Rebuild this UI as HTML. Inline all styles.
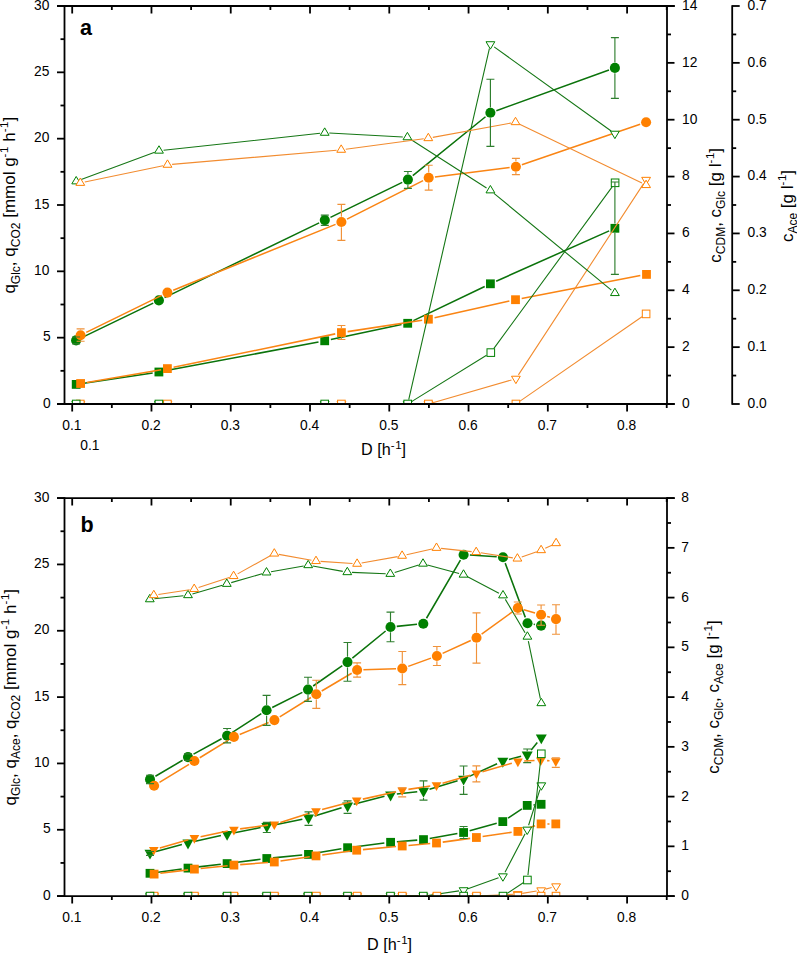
<!DOCTYPE html>
<html><head><meta charset="utf-8"><title>Chart</title>
<style>html,body{margin:0;padding:0;background:#fff;width:797px;height:954px;overflow:hidden}svg{display:block}text{font-family:"Liberation Sans",sans-serif}</style></head>
<body>
<svg width="797" height="954" viewBox="0 0 797 954" font-family='"Liberation Sans", sans-serif' fill="#000">
<defs>
<clipPath id="clipa"><rect x="64.5" y="6" width="602.5" height="398"/></clipPath>
<clipPath id="clipb"><rect x="64.5" y="498.1" width="602.5" height="398"/></clipPath>
</defs>
<rect width="797" height="954" fill="#fff"/>
<g clip-path="url(#clipa)">
<path d="M82.43 383.47 L152.67 372.93 M165.09 370.83 L318.51 341.97 M330.86 339.5 L401.54 324.6 M413.38 320.58 L484.72 286.52 M496.15 281.23 L609.15 230.87" fill="none" stroke="#0b730b" stroke-width="1.55" stroke-linecap="butt"/>
<rect x="71.8" y="380" width="8.8" height="8.8" fill="#008000"/>
<rect x="154.5" y="367.6" width="8.8" height="8.8" fill="#008000"/>
<rect x="320.3" y="336.4" width="8.8" height="8.8" fill="#008000"/>
<rect x="403.3" y="318.9" width="8.8" height="8.8" fill="#008000"/>
<rect x="486" y="279.4" width="8.8" height="8.8" fill="#008000"/>
<rect x="610.5" y="223.9" width="8.8" height="8.8" fill="#008000"/>
<path d="M86.81 382.43 L161.19 369.67 M173.57 367.32 L335.23 333.88 M347.63 331.64 L422.17 320.16 M434.55 317.82 L509.35 301.08 M521.69 298.51 L640.31 275.59" fill="none" stroke="#fa8514" stroke-width="1.55" stroke-linecap="butt"/>
<rect x="76.2" y="379.1" width="8.8" height="8.8" fill="#ff8000"/>
<rect x="163" y="364.2" width="8.8" height="8.8" fill="#ff8000"/>
<rect x="337" y="328.2" width="8.8" height="8.8" fill="#ff8000"/>
<rect x="424" y="314.8" width="8.8" height="8.8" fill="#ff8000"/>
<rect x="511.1" y="295.3" width="8.8" height="8.8" fill="#ff8000"/>
<rect x="642.1" y="270" width="8.8" height="8.8" fill="#ff8000"/>
<path d="M81.77 337.66 L153.23 303.14 M164.57 297.66 L319.13 222.84 M330.46 217.34 L402.24 182.36 M412.8 175.64 L485.5 116.76 M496.33 110.66 L608.97 70.04" fill="none" stroke="#0b730b" stroke-width="1.55" stroke-linecap="butt"/>
<circle cx="76.1" cy="340.4" r="5.05" fill="#008000"/>
<circle cx="158.9" cy="300.4" r="5.05" fill="#008000"/>
<circle cx="324.8" cy="220.1" r="5.05" fill="#008000"/>
<circle cx="407.9" cy="179.6" r="5.05" fill="#008000"/>
<circle cx="490.4" cy="112.8" r="5.05" fill="#008000"/>
<circle cx="614.9" cy="67.9" r="5.05" fill="#008000"/>
<path d="M86.26 332.42 L161.74 295.38 M173.24 290.23 L335.56 224.37 M347.02 219.15 L423.08 180.65 M434.95 177 L509.65 167.5 M521.86 164.66 L640.14 124.24" fill="none" stroke="#fa8514" stroke-width="1.55" stroke-linecap="butt"/>
<circle cx="80.6" cy="335.2" r="5.05" fill="#ff8000"/>
<circle cx="167.4" cy="292.6" r="5.05" fill="#ff8000"/>
<circle cx="341.4" cy="222" r="5.05" fill="#ff8000"/>
<circle cx="428.7" cy="177.8" r="5.05" fill="#ff8000"/>
<circle cx="515.9" cy="166.7" r="5.05" fill="#ff8000"/>
<circle cx="646.1" cy="122.2" r="5.05" fill="#ff8000"/>
<path d="M84.9 404 L162.8 404 M172 404 L336.8 404 M346 404 L423.8 404 M432.82 402.72 L511.48 379.98 M518.42 374.85 L643.58 183.65" fill="none" stroke="#f28c30" stroke-width="1.1" stroke-linecap="butt"/>
<polygon points="75.9,401.53 84.7,401.53 80.3,408.93" fill="#fff" stroke="#ff8000" stroke-width="1.0" stroke-linejoin="miter"/>
<polygon points="163,401.53 171.8,401.53 167.4,408.93" fill="#fff" stroke="#ff8000" stroke-width="1.0" stroke-linejoin="miter"/>
<polygon points="337,401.53 345.8,401.53 341.4,408.93" fill="#fff" stroke="#ff8000" stroke-width="1.0" stroke-linejoin="miter"/>
<polygon points="424,401.53 432.8,401.53 428.4,408.93" fill="#fff" stroke="#ff8000" stroke-width="1.0" stroke-linejoin="miter"/>
<polygon points="511.5,376.23 520.3,376.23 515.9,383.63" fill="#fff" stroke="#ff8000" stroke-width="1.0" stroke-linejoin="miter"/>
<polygon points="641.7,177.33 650.5,177.33 646.1,184.73" fill="#fff" stroke="#ff8000" stroke-width="1.0" stroke-linejoin="miter"/>
<path d="M80.8 404 L154.3 404 M163.5 404 L320.1 404 M329.3 404 L403.1 404 M408.73 399.52 L489.37 48.68 M494.14 46.89 L611.16 131.01" fill="none" stroke="#167716" stroke-width="1.1" stroke-linecap="butt"/>
<polygon points="71.8,401.53 80.6,401.53 76.2,408.93" fill="#fff" stroke="#008000" stroke-width="1.0" stroke-linejoin="miter"/>
<polygon points="154.5,401.53 163.3,401.53 158.9,408.93" fill="#fff" stroke="#008000" stroke-width="1.0" stroke-linejoin="miter"/>
<polygon points="320.3,401.53 329.1,401.53 324.7,408.93" fill="#fff" stroke="#008000" stroke-width="1.0" stroke-linejoin="miter"/>
<polygon points="403.3,401.53 412.1,401.53 407.7,408.93" fill="#fff" stroke="#008000" stroke-width="1.0" stroke-linejoin="miter"/>
<polygon points="486,41.73 494.8,41.73 490.4,49.13" fill="#fff" stroke="#008000" stroke-width="1.0" stroke-linejoin="miter"/>
<polygon points="610.5,131.23 619.3,131.23 614.9,138.63" fill="#fff" stroke="#008000" stroke-width="1.0" stroke-linejoin="miter"/>
<path d="M85.3 404 L162.4 404 M172.4 404 L336.4 404 M346.4 404 L423.4 404 M433.4 404 L510.9 404 M520.01 401.15 L641.99 316.75" fill="none" stroke="#f28c30" stroke-width="1.1" stroke-linecap="butt"/>
<rect x="76.5" y="400.2" width="7.6" height="7.6" fill="#fff" stroke="#ff8000" stroke-width="1.0"/>
<rect x="163.6" y="400.2" width="7.6" height="7.6" fill="#fff" stroke="#ff8000" stroke-width="1.0"/>
<rect x="337.6" y="400.2" width="7.6" height="7.6" fill="#fff" stroke="#ff8000" stroke-width="1.0"/>
<rect x="424.6" y="400.2" width="7.6" height="7.6" fill="#fff" stroke="#ff8000" stroke-width="1.0"/>
<rect x="512.1" y="400.2" width="7.6" height="7.6" fill="#fff" stroke="#ff8000" stroke-width="1.0"/>
<rect x="642.3" y="310.1" width="7.6" height="7.6" fill="#fff" stroke="#ff8000" stroke-width="1.0"/>
<path d="M81.2 404 L153.9 404 M163.9 404 L319.7 404 M329.7 404 L402.7 404 M411.95 401.37 L486.55 355.23 M493.75 348.57 L612.15 186.83" fill="none" stroke="#167716" stroke-width="1.1" stroke-linecap="butt"/>
<rect x="72.4" y="400.2" width="7.6" height="7.6" fill="#fff" stroke="#008000" stroke-width="1.0"/>
<rect x="155.1" y="400.2" width="7.6" height="7.6" fill="#fff" stroke="#008000" stroke-width="1.0"/>
<rect x="320.9" y="400.2" width="7.6" height="7.6" fill="#fff" stroke="#008000" stroke-width="1.0"/>
<rect x="403.9" y="400.2" width="7.6" height="7.6" fill="#fff" stroke="#008000" stroke-width="1.0"/>
<rect x="487" y="348.8" width="7.6" height="7.6" fill="#fff" stroke="#008000" stroke-width="1.0"/>
<rect x="611.3" y="179" width="7.6" height="7.6" fill="#fff" stroke="#008000" stroke-width="1.0"/>
<path d="M80.51 179.8 L154.69 152.3 M163.57 150.21 L320.13 133.29 M329.29 133.05 L402.81 137.05 M411.27 139.78 L486.53 187.92 M493.95 193.33 L611.35 290.17" fill="none" stroke="#167716" stroke-width="1.1" stroke-linecap="butt"/>
<polygon points="71.8,183.87 80.6,183.87 76.2,176.47" fill="#fff" stroke="#008000" stroke-width="1.0" stroke-linejoin="miter"/>
<polygon points="154.6,153.17 163.4,153.17 159,145.77" fill="#fff" stroke="#008000" stroke-width="1.0" stroke-linejoin="miter"/>
<polygon points="320.3,135.27 329.1,135.27 324.7,127.87" fill="#fff" stroke="#008000" stroke-width="1.0" stroke-linejoin="miter"/>
<polygon points="403,139.77 411.8,139.77 407.4,132.37" fill="#fff" stroke="#008000" stroke-width="1.0" stroke-linejoin="miter"/>
<polygon points="486,192.87 494.8,192.87 490.4,185.47" fill="#fff" stroke="#008000" stroke-width="1.0" stroke-linejoin="miter"/>
<polygon points="610.5,295.57 619.3,295.57 614.9,288.17" fill="#fff" stroke="#008000" stroke-width="1.0" stroke-linejoin="miter"/>
<path d="M84.8 181.97 L163 165.73 M172.08 164.4 L336.62 150.2 M345.76 149.19 L423.74 138.81 M432.82 137.37 L510.98 123.03 M519.64 124.2 L641.96 183.1" fill="none" stroke="#f28c30" stroke-width="1.1" stroke-linecap="butt"/>
<polygon points="75.9,185.37 84.7,185.37 80.3,177.97" fill="#fff" stroke="#ff8000" stroke-width="1.0" stroke-linejoin="miter"/>
<polygon points="163.1,167.27 171.9,167.27 167.5,159.87" fill="#fff" stroke="#ff8000" stroke-width="1.0" stroke-linejoin="miter"/>
<polygon points="336.8,152.27 345.6,152.27 341.2,144.87" fill="#fff" stroke="#ff8000" stroke-width="1.0" stroke-linejoin="miter"/>
<polygon points="423.9,140.67 432.7,140.67 428.3,133.27" fill="#fff" stroke="#ff8000" stroke-width="1.0" stroke-linejoin="miter"/>
<polygon points="511.1,124.67 519.9,124.67 515.5,117.27" fill="#fff" stroke="#ff8000" stroke-width="1.0" stroke-linejoin="miter"/>
<polygon points="641.7,187.57 650.5,187.57 646.1,180.17" fill="#fff" stroke="#ff8000" stroke-width="1.0" stroke-linejoin="miter"/>
<path d="M614.9 182 V223.6 M614.9 233 V274.3 M610.9 182 H618.9 M610.9 274.3 H618.9" stroke="#2f7f2f" stroke-width="1.15" fill="none"/>
<path d="M341.4 325.5 V327.9 M341.4 337.3 V339.5 M337.4 325.5 H345.4 M337.4 339.5 H345.4" stroke="#f0923a" stroke-width="1.15" fill="none"/>
<path d="M72.1 337 H80.1 M72.1 343.8 H80.1" stroke="#2f7f2f" stroke-width="1.15" fill="none"/>
<path d="M320.8 215.1 H328.8 M320.8 225.4 H328.8" stroke="#2f7f2f" stroke-width="1.15" fill="none"/>
<path d="M407.9 171.5 V174.25 M407.9 184.95 V188.4 M403.9 171.5 H411.9 M403.9 188.4 H411.9" stroke="#2f7f2f" stroke-width="1.15" fill="none"/>
<path d="M490.4 79.2 V107.45 M490.4 118.15 V146.3 M486.4 79.2 H494.4 M486.4 146.3 H494.4" stroke="#2f7f2f" stroke-width="1.15" fill="none"/>
<path d="M614.9 37.6 V62.55 M614.9 73.25 V98.4 M610.9 37.6 H618.9 M610.9 98.4 H618.9" stroke="#2f7f2f" stroke-width="1.15" fill="none"/>
<path d="M80.6 328.9 V329.85 M80.6 340.55 V341.2 M76.6 328.9 H84.6 M76.6 341.2 H84.6" stroke="#f0923a" stroke-width="1.15" fill="none"/>
<path d="M341.4 204.4 V216.65 M341.4 227.35 V240.4 M337.4 204.4 H345.4 M337.4 240.4 H345.4" stroke="#f0923a" stroke-width="1.15" fill="none"/>
<path d="M428.7 165.2 V172.45 M428.7 183.15 V190.1 M424.7 165.2 H432.7 M424.7 190.1 H432.7" stroke="#f0923a" stroke-width="1.15" fill="none"/>
<path d="M515.9 158.3 V161.35 M515.9 172.05 V174.6 M511.9 158.3 H519.9 M511.9 174.6 H519.9" stroke="#f0923a" stroke-width="1.15" fill="none"/>
</g>
<g clip-path="url(#clipb)">
<path d="M156.24 872.45 L181.76 868.95 M194.26 867.38 L220.84 864.32 M233.35 862.8 L260.55 859.3 M273.07 857.88 L302.23 855.02 M314.71 853.34 L341.39 848.76 M353.85 846.92 L384.35 843.08 M396.88 841.78 L417.22 840.12 M429.7 838.5 L457.4 833.6 M469.67 830.81 L496.73 823.29 M508.05 818.12 L521.95 808.88 M533.48 804.9 L534.82 804.8" fill="none" stroke="#0b730b" stroke-width="1.55" stroke-linecap="butt"/>
<rect x="145.6" y="868.9" width="8.8" height="8.8" fill="#008000"/>
<rect x="183.6" y="863.7" width="8.8" height="8.8" fill="#008000"/>
<rect x="222.7" y="859.2" width="8.8" height="8.8" fill="#008000"/>
<rect x="262.4" y="854.1" width="8.8" height="8.8" fill="#008000"/>
<rect x="304.1" y="850" width="8.8" height="8.8" fill="#008000"/>
<rect x="343.2" y="843.3" width="8.8" height="8.8" fill="#008000"/>
<rect x="386.2" y="837.9" width="8.8" height="8.8" fill="#008000"/>
<rect x="419.1" y="835.2" width="8.8" height="8.8" fill="#008000"/>
<rect x="459.2" y="828.1" width="8.8" height="8.8" fill="#008000"/>
<rect x="498.4" y="817.2" width="8.8" height="8.8" fill="#008000"/>
<rect x="522.8" y="801" width="8.8" height="8.8" fill="#008000"/>
<rect x="536.7" y="799.9" width="8.8" height="8.8" fill="#008000"/>
<path d="M160.35 873.32 L188.15 869.88 M200.67 868.47 L227.63 865.73 M240.18 864.62 L268.02 862.48 M280.53 861.09 L309.77 856.81 M322.24 855.03 L350.46 851.07 M362.97 849.62 L395.93 846.58 M408.48 845.45 L430.22 843.55 M442.74 842.14 L470.16 838.36 M482.63 836.58 L511.67 832.32 M523.89 829.46 L535.11 825.84 M547.4 823.9 L549.5 823.9" fill="none" stroke="#fa8514" stroke-width="1.55" stroke-linecap="butt"/>
<rect x="149.7" y="869.7" width="8.8" height="8.8" fill="#ff8000"/>
<rect x="190" y="864.7" width="8.8" height="8.8" fill="#ff8000"/>
<rect x="229.5" y="860.7" width="8.8" height="8.8" fill="#ff8000"/>
<rect x="269.9" y="857.6" width="8.8" height="8.8" fill="#ff8000"/>
<rect x="311.6" y="851.5" width="8.8" height="8.8" fill="#ff8000"/>
<rect x="352.3" y="845.8" width="8.8" height="8.8" fill="#ff8000"/>
<rect x="397.8" y="841.6" width="8.8" height="8.8" fill="#ff8000"/>
<rect x="432.1" y="838.6" width="8.8" height="8.8" fill="#ff8000"/>
<rect x="472" y="833.1" width="8.8" height="8.8" fill="#ff8000"/>
<rect x="513.5" y="827" width="8.8" height="8.8" fill="#ff8000"/>
<rect x="536.7" y="819.5" width="8.8" height="8.8" fill="#ff8000"/>
<rect x="551.4" y="819.5" width="8.8" height="8.8" fill="#ff8000"/>
<path d="M156.09 851.38 L181.91 844.52 M194.15 841.53 L220.95 835.57 M233.28 832.99 L260.62 827.61 M272.97 825.14 L302.33 819.16 M314.52 816.04 L341.58 807.66 M353.7 804.24 L384.5 796.36 M396.86 794.1 L417.24 791.8 M429.53 789.28 L457.57 780.82 M469.33 776.38 L497.07 763.72 M508.9 759.53 L521.1 756.37 M531.21 749.94 L537.29 742.56" fill="none" stroke="#0b730b" stroke-width="1.55" stroke-linecap="butt"/>
<polygon points="144.5,849.7 155.5,849.7 150,859.6" fill="#008000"/>
<polygon points="182.5,839.6 193.5,839.6 188,849.5" fill="#008000"/>
<polygon points="221.6,830.9 232.6,830.9 227.1,840.8" fill="#008000"/>
<polygon points="261.3,823.1 272.3,823.1 266.8,833" fill="#008000"/>
<polygon points="303,814.6 314,814.6 308.5,824.5" fill="#008000"/>
<polygon points="342.1,802.5 353.1,802.5 347.6,812.4" fill="#008000"/>
<polygon points="385.1,791.5 396.1,791.5 390.6,801.4" fill="#008000"/>
<polygon points="418,787.8 429,787.8 423.5,797.7" fill="#008000"/>
<polygon points="458.1,775.7 469.1,775.7 463.6,785.6" fill="#008000"/>
<polygon points="497.3,757.8 508.3,757.8 502.8,767.7" fill="#008000"/>
<polygon points="521.7,751.5 532.7,751.5 527.2,761.4" fill="#008000"/>
<polygon points="535.8,734.4 546.8,734.4 541.3,744.3" fill="#008000"/>
<path d="M159.85 848.04 L188.35 839.76 M200.57 836.7 L227.73 831 M240.14 828.87 L268.06 825.13 M280.31 822.4 L309.99 813 M322.1 809.51 L350.6 802.09 M362.85 799.12 L396.05 791.68 M408.43 789.36 L430.27 786.04 M442.55 783.34 L470.35 775.26 M482.45 771.74 L511.85 763.16 M524.19 761.1 L534.51 760.6 M547.09 760.64 L549.51 760.76" fill="none" stroke="#fa8514" stroke-width="1.55" stroke-linecap="butt"/>
<polygon points="148.95,846.9 158.65,846.9 153.8,855.6" fill="#ff8000"/>
<polygon points="189.55,835.1 199.25,835.1 194.4,843.8" fill="#ff8000"/>
<polygon points="229.05,826.8 238.75,826.8 233.9,835.5" fill="#ff8000"/>
<polygon points="269.45,821.4 279.15,821.4 274.3,830.1" fill="#ff8000"/>
<polygon points="311.15,808.2 320.85,808.2 316,816.9" fill="#ff8000"/>
<polygon points="351.85,797.6 361.55,797.6 356.7,806.3" fill="#ff8000"/>
<polygon points="397.35,787.4 407.05,787.4 402.2,796.1" fill="#ff8000"/>
<polygon points="431.65,782.2 441.35,782.2 436.5,790.9" fill="#ff8000"/>
<polygon points="471.55,770.6 481.25,770.6 476.4,779.3" fill="#ff8000"/>
<polygon points="513.05,758.5 522.75,758.5 517.9,767.2" fill="#ff8000"/>
<polygon points="535.95,757.4 545.65,757.4 540.8,766.1" fill="#ff8000"/>
<polygon points="550.95,758.2 560.65,758.2 555.8,766.9" fill="#ff8000"/>
<path d="M155.43 776.21 L182.57 760.29 M193.53 754.08 L221.57 738.72 M232.4 732.29 L261.3 713.71 M272.23 707.48 L302.37 692.42 M313.17 686 L342.33 665.7 M352.38 658.12 L385.62 630.98 M396.77 626.37 L417.03 624.33 M426.48 618.26 L460.42 560.14 M469.89 555.1 L496.71 556.8 M505.19 563.11 L525.31 617.39 M533.71 624.35 L534.89 624.55" fill="none" stroke="#0b730b" stroke-width="1.55" stroke-linecap="butt"/>
<circle cx="150" cy="779.4" r="5.05" fill="#008000"/>
<circle cx="188" cy="757.1" r="5.05" fill="#008000"/>
<circle cx="227.1" cy="735.7" r="5.05" fill="#008000"/>
<circle cx="266.6" cy="710.3" r="5.05" fill="#008000"/>
<circle cx="308" cy="689.6" r="5.05" fill="#008000"/>
<circle cx="347.5" cy="662.1" r="5.05" fill="#008000"/>
<circle cx="390.5" cy="627" r="5.05" fill="#008000"/>
<circle cx="423.3" cy="623.7" r="5.05" fill="#008000"/>
<circle cx="463.6" cy="554.7" r="5.05" fill="#008000"/>
<circle cx="503" cy="557.2" r="5.05" fill="#008000"/>
<circle cx="527.5" cy="623.3" r="5.05" fill="#008000"/>
<circle cx="541.1" cy="625.6" r="5.05" fill="#008000"/>
<path d="M159.47 782.41 L189.03 764.29 M199.78 757.72 L228.52 740.18 M239.72 734.49 L268.58 722.51 M279.76 716.79 L310.94 697.51 M321.72 690.99 L351.68 673.21 M363.4 669.79 L396 668.71 M408.23 666.36 L430.97 658.14 M442.62 653.37 L470.78 640.43 M481.61 634.11 L512.69 611.69 M523.85 609.74 L535.05 612.96 M547.14 616.48 L549.96 617.32" fill="none" stroke="#fa8514" stroke-width="1.55" stroke-linecap="butt"/>
<circle cx="154.1" cy="785.7" r="5.05" fill="#ff8000"/>
<circle cx="194.4" cy="761" r="5.05" fill="#ff8000"/>
<circle cx="233.9" cy="736.9" r="5.05" fill="#ff8000"/>
<circle cx="274.4" cy="720.1" r="5.05" fill="#ff8000"/>
<circle cx="316.3" cy="694.2" r="5.05" fill="#ff8000"/>
<circle cx="357.1" cy="670" r="5.05" fill="#ff8000"/>
<circle cx="402.3" cy="668.5" r="5.05" fill="#ff8000"/>
<circle cx="436.9" cy="656" r="5.05" fill="#ff8000"/>
<circle cx="476.5" cy="637.8" r="5.05" fill="#ff8000"/>
<circle cx="517.8" cy="608" r="5.05" fill="#ff8000"/>
<circle cx="541.1" cy="614.7" r="5.05" fill="#ff8000"/>
<circle cx="556" cy="619.1" r="5.05" fill="#ff8000"/>
<path d="M158.7 896.1 L189.8 896.1 M199 896.1 L229.3 896.1 M238.5 896.1 L269.8 896.1 M279 896.1 L311.7 896.1 M320.9 896.1 L352.5 896.1 M361.7 896.1 L397.7 896.1 M406.9 896.1 L432.3 896.1 M441.5 896.1 L471.9 896.1 M481.09 895.88 L513.11 894.32 M522.24 893.37 L536.66 891.03 M545.64 889.11 L551.66 887.49" fill="none" stroke="#f28c30" stroke-width="1.1" stroke-linecap="butt"/>
<polygon points="149.7,893.63 158.5,893.63 154.1,901.03" fill="#fff" stroke="#ff8000" stroke-width="1.0" stroke-linejoin="miter"/>
<polygon points="190,893.63 198.8,893.63 194.4,901.03" fill="#fff" stroke="#ff8000" stroke-width="1.0" stroke-linejoin="miter"/>
<polygon points="229.5,893.63 238.3,893.63 233.9,901.03" fill="#fff" stroke="#ff8000" stroke-width="1.0" stroke-linejoin="miter"/>
<polygon points="270,893.63 278.8,893.63 274.4,901.03" fill="#fff" stroke="#ff8000" stroke-width="1.0" stroke-linejoin="miter"/>
<polygon points="311.9,893.63 320.7,893.63 316.3,901.03" fill="#fff" stroke="#ff8000" stroke-width="1.0" stroke-linejoin="miter"/>
<polygon points="352.7,893.63 361.5,893.63 357.1,901.03" fill="#fff" stroke="#ff8000" stroke-width="1.0" stroke-linejoin="miter"/>
<polygon points="397.9,893.63 406.7,893.63 402.3,901.03" fill="#fff" stroke="#ff8000" stroke-width="1.0" stroke-linejoin="miter"/>
<polygon points="432.5,893.63 441.3,893.63 436.9,901.03" fill="#fff" stroke="#ff8000" stroke-width="1.0" stroke-linejoin="miter"/>
<polygon points="472.1,893.63 480.9,893.63 476.5,901.03" fill="#fff" stroke="#ff8000" stroke-width="1.0" stroke-linejoin="miter"/>
<polygon points="513.3,891.63 522.1,891.63 517.7,899.03" fill="#fff" stroke="#ff8000" stroke-width="1.0" stroke-linejoin="miter"/>
<polygon points="536.8,887.83 545.6,887.83 541.2,895.23" fill="#fff" stroke="#ff8000" stroke-width="1.0" stroke-linejoin="miter"/>
<polygon points="551.7,883.83 560.5,883.83 556.1,891.23" fill="#fff" stroke="#ff8000" stroke-width="1.0" stroke-linejoin="miter"/>
<path d="M154.6 896.1 L183.4 896.1 M192.6 896.1 L222.5 896.1 M231.7 896.1 L262 896.1 M271.2 896.1 L303.4 896.1 M312.6 896.1 L342.9 896.1 M352.1 896.1 L385.9 896.1 M395.1 896.1 L418.7 896.1 M427.85 895.43 L459.05 890.87 M467.94 888.67 L498.56 877.83 M505.02 872.22 L525.08 833.68 M528.6 825.22 L539.9 789.68" fill="none" stroke="#167716" stroke-width="1.1" stroke-linecap="butt"/>
<polygon points="145.6,893.63 154.4,893.63 150,901.03" fill="#fff" stroke="#008000" stroke-width="1.0" stroke-linejoin="miter"/>
<polygon points="183.6,893.63 192.4,893.63 188,901.03" fill="#fff" stroke="#008000" stroke-width="1.0" stroke-linejoin="miter"/>
<polygon points="222.7,893.63 231.5,893.63 227.1,901.03" fill="#fff" stroke="#008000" stroke-width="1.0" stroke-linejoin="miter"/>
<polygon points="262.2,893.63 271,893.63 266.6,901.03" fill="#fff" stroke="#008000" stroke-width="1.0" stroke-linejoin="miter"/>
<polygon points="303.6,893.63 312.4,893.63 308,901.03" fill="#fff" stroke="#008000" stroke-width="1.0" stroke-linejoin="miter"/>
<polygon points="343.1,893.63 351.9,893.63 347.5,901.03" fill="#fff" stroke="#008000" stroke-width="1.0" stroke-linejoin="miter"/>
<polygon points="386.1,893.63 394.9,893.63 390.5,901.03" fill="#fff" stroke="#008000" stroke-width="1.0" stroke-linejoin="miter"/>
<polygon points="418.9,893.63 427.7,893.63 423.3,901.03" fill="#fff" stroke="#008000" stroke-width="1.0" stroke-linejoin="miter"/>
<polygon points="459.2,887.73 468,887.73 463.6,895.13" fill="#fff" stroke="#008000" stroke-width="1.0" stroke-linejoin="miter"/>
<polygon points="498.5,873.83 507.3,873.83 502.9,881.23" fill="#fff" stroke="#008000" stroke-width="1.0" stroke-linejoin="miter"/>
<polygon points="522.8,827.13 531.6,827.13 527.2,834.53" fill="#fff" stroke="#008000" stroke-width="1.0" stroke-linejoin="miter"/>
<polygon points="536.9,782.83 545.7,782.83 541.3,790.23" fill="#fff" stroke="#008000" stroke-width="1.0" stroke-linejoin="miter"/>
<path d="M159.1 896.1 L189.4 896.1 M199.4 896.1 L228.9 896.1 M238.9 896.1 L269.4 896.1 M279.4 896.1 L311.3 896.1 M321.3 896.1 L352.1 896.1 M362.1 896.1 L397.3 896.1 M407.3 896.1 L431.9 896.1 M441.9 896.1 L471.5 896.1 M481.5 896.1 L512.8 896.1 M522.8 896.1 L536.1 896.1 M546.1 896.1 L551 896.1" fill="none" stroke="#f28c30" stroke-width="1.1" stroke-linecap="butt"/>
<rect x="150.3" y="892.3" width="7.6" height="7.6" fill="#fff" stroke="#ff8000" stroke-width="1.0"/>
<rect x="190.6" y="892.3" width="7.6" height="7.6" fill="#fff" stroke="#ff8000" stroke-width="1.0"/>
<rect x="230.1" y="892.3" width="7.6" height="7.6" fill="#fff" stroke="#ff8000" stroke-width="1.0"/>
<rect x="270.6" y="892.3" width="7.6" height="7.6" fill="#fff" stroke="#ff8000" stroke-width="1.0"/>
<rect x="312.5" y="892.3" width="7.6" height="7.6" fill="#fff" stroke="#ff8000" stroke-width="1.0"/>
<rect x="353.3" y="892.3" width="7.6" height="7.6" fill="#fff" stroke="#ff8000" stroke-width="1.0"/>
<rect x="398.5" y="892.3" width="7.6" height="7.6" fill="#fff" stroke="#ff8000" stroke-width="1.0"/>
<rect x="433.1" y="892.3" width="7.6" height="7.6" fill="#fff" stroke="#ff8000" stroke-width="1.0"/>
<rect x="472.7" y="892.3" width="7.6" height="7.6" fill="#fff" stroke="#ff8000" stroke-width="1.0"/>
<rect x="514" y="892.3" width="7.6" height="7.6" fill="#fff" stroke="#ff8000" stroke-width="1.0"/>
<rect x="537.3" y="892.3" width="7.6" height="7.6" fill="#fff" stroke="#ff8000" stroke-width="1.0"/>
<rect x="552.2" y="892.3" width="7.6" height="7.6" fill="#fff" stroke="#ff8000" stroke-width="1.0"/>
<path d="M155 896.1 L183 896.1 M193 896.1 L222.1 896.1 M232.1 896.1 L261.6 896.1 M271.6 896.1 L303 896.1 M313 896.1 L342.5 896.1 M352.5 896.1 L385.5 896.1 M395.5 896.1 L418.3 896.1 M428.3 896.1 L458.6 896.1 M468.6 896.1 L498 896.1 M507.17 893.35 L523.23 882.75 M527.95 875.03 L540.75 758.77" fill="none" stroke="#167716" stroke-width="1.1" stroke-linecap="butt"/>
<rect x="146.2" y="892.3" width="7.6" height="7.6" fill="#fff" stroke="#008000" stroke-width="1.0"/>
<rect x="184.2" y="892.3" width="7.6" height="7.6" fill="#fff" stroke="#008000" stroke-width="1.0"/>
<rect x="223.3" y="892.3" width="7.6" height="7.6" fill="#fff" stroke="#008000" stroke-width="1.0"/>
<rect x="262.8" y="892.3" width="7.6" height="7.6" fill="#fff" stroke="#008000" stroke-width="1.0"/>
<rect x="304.2" y="892.3" width="7.6" height="7.6" fill="#fff" stroke="#008000" stroke-width="1.0"/>
<rect x="343.7" y="892.3" width="7.6" height="7.6" fill="#fff" stroke="#008000" stroke-width="1.0"/>
<rect x="386.7" y="892.3" width="7.6" height="7.6" fill="#fff" stroke="#008000" stroke-width="1.0"/>
<rect x="419.5" y="892.3" width="7.6" height="7.6" fill="#fff" stroke="#008000" stroke-width="1.0"/>
<rect x="459.8" y="892.3" width="7.6" height="7.6" fill="#fff" stroke="#008000" stroke-width="1.0"/>
<rect x="499.2" y="892.3" width="7.6" height="7.6" fill="#fff" stroke="#008000" stroke-width="1.0"/>
<rect x="523.6" y="876.2" width="7.6" height="7.6" fill="#fff" stroke="#008000" stroke-width="1.0"/>
<rect x="537.5" y="750" width="7.6" height="7.6" fill="#fff" stroke="#008000" stroke-width="1.0"/>
<path d="M154.37 598.81 L183.43 595.69 M192.42 593.91 L222.38 585.19 M231.22 582.63 L262.08 573.77 M271.03 571.71 L303.67 565.99 M312.73 566.01 L342.77 571.39 M351.9 572.38 L385.7 573.72 M394.69 572.53 L418.61 565.07 M427.44 564.91 L459.06 573.49 M467.57 576.84 L498.93 593.26 M505.34 599.36 L525.06 632.74 M528.34 641.2 L540.36 698.7" fill="none" stroke="#167716" stroke-width="1.1" stroke-linecap="butt"/>
<polygon points="145.4,601.77 154.2,601.77 149.8,594.37" fill="#fff" stroke="#008000" stroke-width="1.0" stroke-linejoin="miter"/>
<polygon points="183.6,597.67 192.4,597.67 188,590.27" fill="#fff" stroke="#008000" stroke-width="1.0" stroke-linejoin="miter"/>
<polygon points="222.4,586.37 231.2,586.37 226.8,578.97" fill="#fff" stroke="#008000" stroke-width="1.0" stroke-linejoin="miter"/>
<polygon points="262.1,574.97 270.9,574.97 266.5,567.57" fill="#fff" stroke="#008000" stroke-width="1.0" stroke-linejoin="miter"/>
<polygon points="303.8,567.67 312.6,567.67 308.2,560.27" fill="#fff" stroke="#008000" stroke-width="1.0" stroke-linejoin="miter"/>
<polygon points="342.9,574.67 351.7,574.67 347.3,567.27" fill="#fff" stroke="#008000" stroke-width="1.0" stroke-linejoin="miter"/>
<polygon points="385.9,576.37 394.7,576.37 390.3,568.97" fill="#fff" stroke="#008000" stroke-width="1.0" stroke-linejoin="miter"/>
<polygon points="418.6,566.17 427.4,566.17 423,558.77" fill="#fff" stroke="#008000" stroke-width="1.0" stroke-linejoin="miter"/>
<polygon points="459.1,577.17 467.9,577.17 463.5,569.77" fill="#fff" stroke="#008000" stroke-width="1.0" stroke-linejoin="miter"/>
<polygon points="498.6,597.87 507.4,597.87 503,590.47" fill="#fff" stroke="#008000" stroke-width="1.0" stroke-linejoin="miter"/>
<polygon points="523,639.17 531.8,639.17 527.4,631.77" fill="#fff" stroke="#008000" stroke-width="1.0" stroke-linejoin="miter"/>
<polygon points="536.9,705.67 545.7,705.67 541.3,698.27" fill="#fff" stroke="#008000" stroke-width="1.0" stroke-linejoin="miter"/>
<path d="M158.35 594.5 L189.65 589.7 M198.57 587.57 L229.23 577.53 M237.63 573.87 L270.27 555.83 M278.83 554.41 L311.47 560.29 M320.59 561.4 L352.51 563.5 M361.63 562.99 L397.57 556.61 M406.58 554.77 L432.02 548.93 M441.07 548.38 L471.63 551.62 M480.74 552.82 L512.86 557.88 M521.74 557.06 L536.76 551.74 M545.27 548.25 L551.93 545.15" fill="none" stroke="#f28c30" stroke-width="1.1" stroke-linecap="butt"/>
<polygon points="149.4,597.67 158.2,597.67 153.8,590.27" fill="#fff" stroke="#ff8000" stroke-width="1.0" stroke-linejoin="miter"/>
<polygon points="189.8,591.47 198.6,591.47 194.2,584.07" fill="#fff" stroke="#ff8000" stroke-width="1.0" stroke-linejoin="miter"/>
<polygon points="229.2,578.57 238,578.57 233.6,571.17" fill="#fff" stroke="#ff8000" stroke-width="1.0" stroke-linejoin="miter"/>
<polygon points="269.9,556.07 278.7,556.07 274.3,548.67" fill="#fff" stroke="#ff8000" stroke-width="1.0" stroke-linejoin="miter"/>
<polygon points="311.6,563.57 320.4,563.57 316,556.17" fill="#fff" stroke="#ff8000" stroke-width="1.0" stroke-linejoin="miter"/>
<polygon points="352.7,566.27 361.5,566.27 357.1,558.87" fill="#fff" stroke="#ff8000" stroke-width="1.0" stroke-linejoin="miter"/>
<polygon points="397.7,558.27 406.5,558.27 402.1,550.87" fill="#fff" stroke="#ff8000" stroke-width="1.0" stroke-linejoin="miter"/>
<polygon points="432.1,550.37 440.9,550.37 436.5,542.97" fill="#fff" stroke="#ff8000" stroke-width="1.0" stroke-linejoin="miter"/>
<polygon points="471.8,554.57 480.6,554.57 476.2,547.17" fill="#fff" stroke="#ff8000" stroke-width="1.0" stroke-linejoin="miter"/>
<polygon points="513,561.07 521.8,561.07 517.4,553.67" fill="#fff" stroke="#ff8000" stroke-width="1.0" stroke-linejoin="miter"/>
<polygon points="536.7,552.67 545.5,552.67 541.1,545.27" fill="#fff" stroke="#ff8000" stroke-width="1.0" stroke-linejoin="miter"/>
<polygon points="551.7,545.67 560.5,545.67 556.1,538.27" fill="#fff" stroke="#ff8000" stroke-width="1.0" stroke-linejoin="miter"/>
<path d="M463.6 826.5 V827.8 M463.6 837.2 V838.5 M459.6 826.5 H467.6 M459.6 838.5 H467.6" stroke="#2f7f2f" stroke-width="1.15" fill="none"/>
<path d="M146 851.5 H154 M146 855.4 H154" stroke="#2f7f2f" stroke-width="1.15" fill="none"/>
<path d="M266.8 822.4 V822.8 M262.8 822.4 H270.8 M262.8 832.5 H270.8" stroke="#2f7f2f" stroke-width="1.15" fill="none"/>
<path d="M308.5 811.8 V814.3 M308.5 824.8 V825.4 M304.5 811.8 H312.5 M304.5 825.4 H312.5" stroke="#2f7f2f" stroke-width="1.15" fill="none"/>
<path d="M347.6 800.8 V802.2 M347.6 812.7 V813.3 M343.6 800.8 H351.6 M343.6 813.3 H351.6" stroke="#2f7f2f" stroke-width="1.15" fill="none"/>
<path d="M423.5 780.8 V787.5 M423.5 798 V800.1 M419.5 780.8 H427.5 M419.5 800.1 H427.5" stroke="#2f7f2f" stroke-width="1.15" fill="none"/>
<path d="M463.6 766 V775.4 M463.6 785.9 V794.4 M459.6 766 H467.6 M459.6 794.4 H467.6" stroke="#2f7f2f" stroke-width="1.15" fill="none"/>
<path d="M527.2 749 V751.2 M527.2 761.7 V762.6 M523.2 749 H531.2 M523.2 762.6 H531.2" stroke="#2f7f2f" stroke-width="1.15" fill="none"/>
<path d="M402.2 796.4 V796.8 M398.2 787.8 H406.2 M398.2 796.8 H406.2" stroke="#f0923a" stroke-width="1.15" fill="none"/>
<path d="M476.4 765.9 V770.3 M476.4 779.6 V781.9 M472.4 765.9 H480.4 M472.4 781.9 H480.4" stroke="#f0923a" stroke-width="1.15" fill="none"/>
<path d="M555.8 757.8 V757.9 M555.8 767.2 V767.4 M551.8 757.8 H559.8 M551.8 767.4 H559.8" stroke="#f0923a" stroke-width="1.15" fill="none"/>
<path d="M146 775.2 H154 M146 783.6 H154" stroke="#2f7f2f" stroke-width="1.15" fill="none"/>
<path d="M184 753.8 H192 M184 760.4 H192" stroke="#2f7f2f" stroke-width="1.15" fill="none"/>
<path d="M227.1 728.5 V730.35 M227.1 741.05 V742.9 M223.1 728.5 H231.1 M223.1 742.9 H231.1" stroke="#2f7f2f" stroke-width="1.15" fill="none"/>
<path d="M266.6 695.3 V704.95 M266.6 715.65 V725.4 M262.6 695.3 H270.6 M262.6 725.4 H270.6" stroke="#2f7f2f" stroke-width="1.15" fill="none"/>
<path d="M308 677.2 V684.25 M308 694.95 V701.3 M304 677.2 H312 M304 701.3 H312" stroke="#2f7f2f" stroke-width="1.15" fill="none"/>
<path d="M347.5 642.5 V656.75 M347.5 667.45 V681.2 M343.5 642.5 H351.5 M343.5 681.2 H351.5" stroke="#2f7f2f" stroke-width="1.15" fill="none"/>
<path d="M390.5 612.1 V621.65 M390.5 632.35 V641.7 M386.5 612.1 H394.5 M386.5 641.7 H394.5" stroke="#2f7f2f" stroke-width="1.15" fill="none"/>
<path d="M316.3 680.2 V688.85 M316.3 699.55 V708.4 M312.3 680.2 H320.3 M312.3 708.4 H320.3" stroke="#f0923a" stroke-width="1.15" fill="none"/>
<path d="M357.1 662.8 V664.65 M357.1 675.35 V677.1 M353.1 662.8 H361.1 M353.1 677.1 H361.1" stroke="#f0923a" stroke-width="1.15" fill="none"/>
<path d="M402.3 651.5 V663.15 M402.3 673.85 V684.6 M398.3 651.5 H406.3 M398.3 684.6 H406.3" stroke="#f0923a" stroke-width="1.15" fill="none"/>
<path d="M436.9 646.5 V650.65 M436.9 661.35 V665.5 M432.9 646.5 H440.9 M432.9 665.5 H440.9" stroke="#f0923a" stroke-width="1.15" fill="none"/>
<path d="M476.5 612.8 V632.45 M476.5 643.15 V663.1 M472.5 612.8 H480.5 M472.5 663.1 H480.5" stroke="#f0923a" stroke-width="1.15" fill="none"/>
<path d="M517.8 602 V602.65 M517.8 613.35 V614 M513.8 602 H521.8 M513.8 614 H521.8" stroke="#f0923a" stroke-width="1.15" fill="none"/>
<path d="M541.1 605 V609.35 M541.1 620.05 V625.2 M537.1 605 H545.1 M537.1 625.2 H545.1" stroke="#f0923a" stroke-width="1.15" fill="none"/>
<path d="M556 604.7 V613.75 M556 624.45 V634.2 M552 604.7 H560 M552 634.2 H560" stroke="#f0923a" stroke-width="1.15" fill="none"/>
</g>
<path d="M64.5 5.2 V404.8" stroke="#000" stroke-width="1.8" fill="none"/>
<path d="M57 404 H674.8" stroke="#000" stroke-width="1.8" fill="none"/>
<path d="M57 6 H674.8" stroke="#000" stroke-width="1.8" fill="none"/>
<path d="M667 5.2 V404.8" stroke="#000" stroke-width="1.8" fill="none"/>
<path d="M72.2 404 V411.5 M72.2 6 V13.5" stroke="#000" stroke-width="1.8" fill="none"/>
<path d="M111.83 404 V408 M111.83 6 V10" stroke="#000" stroke-width="1.8" fill="none"/>
<path d="M151.47 404 V411.5 M151.47 6 V13.5" stroke="#000" stroke-width="1.8" fill="none"/>
<path d="M191.11 404 V408 M191.11 6 V10" stroke="#000" stroke-width="1.8" fill="none"/>
<path d="M230.74 404 V411.5 M230.74 6 V13.5" stroke="#000" stroke-width="1.8" fill="none"/>
<path d="M270.38 404 V408 M270.38 6 V10" stroke="#000" stroke-width="1.8" fill="none"/>
<path d="M310.01 404 V411.5 M310.01 6 V13.5" stroke="#000" stroke-width="1.8" fill="none"/>
<path d="M349.64 404 V408 M349.64 6 V10" stroke="#000" stroke-width="1.8" fill="none"/>
<path d="M389.28 404 V411.5 M389.28 6 V13.5" stroke="#000" stroke-width="1.8" fill="none"/>
<path d="M428.92 404 V408 M428.92 6 V10" stroke="#000" stroke-width="1.8" fill="none"/>
<path d="M468.55 404 V411.5 M468.55 6 V13.5" stroke="#000" stroke-width="1.8" fill="none"/>
<path d="M508.19 404 V408 M508.19 6 V10" stroke="#000" stroke-width="1.8" fill="none"/>
<path d="M547.82 404 V411.5 M547.82 6 V13.5" stroke="#000" stroke-width="1.8" fill="none"/>
<path d="M587.46 404 V408 M587.46 6 V10" stroke="#000" stroke-width="1.8" fill="none"/>
<path d="M627.09 404 V411.5 M627.09 6 V13.5" stroke="#000" stroke-width="1.8" fill="none"/>
<path d="M666.73 404 V408 M666.73 6 V10" stroke="#000" stroke-width="1.8" fill="none"/>
<path d="M57 404 H64.5" stroke="#000" stroke-width="1.8" fill="none"/>
<path d="M60.5 370.83 H64.5" stroke="#000" stroke-width="1.8" fill="none"/>
<path d="M57 337.67 H64.5" stroke="#000" stroke-width="1.8" fill="none"/>
<path d="M60.5 304.5 H64.5" stroke="#000" stroke-width="1.8" fill="none"/>
<path d="M57 271.33 H64.5" stroke="#000" stroke-width="1.8" fill="none"/>
<path d="M60.5 238.17 H64.5" stroke="#000" stroke-width="1.8" fill="none"/>
<path d="M57 205 H64.5" stroke="#000" stroke-width="1.8" fill="none"/>
<path d="M60.5 171.83 H64.5" stroke="#000" stroke-width="1.8" fill="none"/>
<path d="M57 138.67 H64.5" stroke="#000" stroke-width="1.8" fill="none"/>
<path d="M60.5 105.5 H64.5" stroke="#000" stroke-width="1.8" fill="none"/>
<path d="M57 72.33 H64.5" stroke="#000" stroke-width="1.8" fill="none"/>
<path d="M60.5 39.17 H64.5" stroke="#000" stroke-width="1.8" fill="none"/>
<path d="M57 6 H64.5" stroke="#000" stroke-width="1.8" fill="none"/>
<path d="M667 404 H674.5" stroke="#000" stroke-width="1.8" fill="none"/>
<path d="M667 375.57 H671" stroke="#000" stroke-width="1.8" fill="none"/>
<path d="M667 347.14 H674.5" stroke="#000" stroke-width="1.8" fill="none"/>
<path d="M667 318.71 H671" stroke="#000" stroke-width="1.8" fill="none"/>
<path d="M667 290.29 H674.5" stroke="#000" stroke-width="1.8" fill="none"/>
<path d="M667 261.86 H671" stroke="#000" stroke-width="1.8" fill="none"/>
<path d="M667 233.43 H674.5" stroke="#000" stroke-width="1.8" fill="none"/>
<path d="M667 205 H671" stroke="#000" stroke-width="1.8" fill="none"/>
<path d="M667 176.57 H674.5" stroke="#000" stroke-width="1.8" fill="none"/>
<path d="M667 148.14 H671" stroke="#000" stroke-width="1.8" fill="none"/>
<path d="M667 119.71 H674.5" stroke="#000" stroke-width="1.8" fill="none"/>
<path d="M667 91.29 H671" stroke="#000" stroke-width="1.8" fill="none"/>
<path d="M667 62.86 H674.5" stroke="#000" stroke-width="1.8" fill="none"/>
<path d="M667 34.43 H671" stroke="#000" stroke-width="1.8" fill="none"/>
<path d="M667 6 H674.5" stroke="#000" stroke-width="1.8" fill="none"/>
<path d="M732.2 5.2 V404.8" stroke="#000" stroke-width="1.8" fill="none"/>
<path d="M732.2 404 H739.7" stroke="#000" stroke-width="1.8" fill="none"/>
<path d="M732.2 375.57 H736.2" stroke="#000" stroke-width="1.8" fill="none"/>
<path d="M732.2 347.14 H739.7" stroke="#000" stroke-width="1.8" fill="none"/>
<path d="M732.2 318.71 H736.2" stroke="#000" stroke-width="1.8" fill="none"/>
<path d="M732.2 290.29 H739.7" stroke="#000" stroke-width="1.8" fill="none"/>
<path d="M732.2 261.86 H736.2" stroke="#000" stroke-width="1.8" fill="none"/>
<path d="M732.2 233.43 H739.7" stroke="#000" stroke-width="1.8" fill="none"/>
<path d="M732.2 205 H736.2" stroke="#000" stroke-width="1.8" fill="none"/>
<path d="M732.2 176.57 H739.7" stroke="#000" stroke-width="1.8" fill="none"/>
<path d="M732.2 148.14 H736.2" stroke="#000" stroke-width="1.8" fill="none"/>
<path d="M732.2 119.71 H739.7" stroke="#000" stroke-width="1.8" fill="none"/>
<path d="M732.2 91.29 H736.2" stroke="#000" stroke-width="1.8" fill="none"/>
<path d="M732.2 62.86 H739.7" stroke="#000" stroke-width="1.8" fill="none"/>
<path d="M732.2 34.43 H736.2" stroke="#000" stroke-width="1.8" fill="none"/>
<path d="M732.2 6 H739.7" stroke="#000" stroke-width="1.8" fill="none"/>
<path d="M64.5 497.3 V896.9" stroke="#000" stroke-width="1.8" fill="none"/>
<path d="M57 896.1 H674.8" stroke="#000" stroke-width="1.8" fill="none"/>
<path d="M57 498.1 H674.8" stroke="#000" stroke-width="1.8" fill="none"/>
<path d="M667 497.3 V896.9" stroke="#000" stroke-width="1.8" fill="none"/>
<path d="M72.2 896.1 V903.6 M72.2 498.1 V505.6" stroke="#000" stroke-width="1.8" fill="none"/>
<path d="M111.83 896.1 V900.1 M111.83 498.1 V502.1" stroke="#000" stroke-width="1.8" fill="none"/>
<path d="M151.47 896.1 V903.6 M151.47 498.1 V505.6" stroke="#000" stroke-width="1.8" fill="none"/>
<path d="M191.11 896.1 V900.1 M191.11 498.1 V502.1" stroke="#000" stroke-width="1.8" fill="none"/>
<path d="M230.74 896.1 V903.6 M230.74 498.1 V505.6" stroke="#000" stroke-width="1.8" fill="none"/>
<path d="M270.38 896.1 V900.1 M270.38 498.1 V502.1" stroke="#000" stroke-width="1.8" fill="none"/>
<path d="M310.01 896.1 V903.6 M310.01 498.1 V505.6" stroke="#000" stroke-width="1.8" fill="none"/>
<path d="M349.64 896.1 V900.1 M349.64 498.1 V502.1" stroke="#000" stroke-width="1.8" fill="none"/>
<path d="M389.28 896.1 V903.6 M389.28 498.1 V505.6" stroke="#000" stroke-width="1.8" fill="none"/>
<path d="M428.92 896.1 V900.1 M428.92 498.1 V502.1" stroke="#000" stroke-width="1.8" fill="none"/>
<path d="M468.55 896.1 V903.6 M468.55 498.1 V505.6" stroke="#000" stroke-width="1.8" fill="none"/>
<path d="M508.19 896.1 V900.1 M508.19 498.1 V502.1" stroke="#000" stroke-width="1.8" fill="none"/>
<path d="M547.82 896.1 V903.6 M547.82 498.1 V505.6" stroke="#000" stroke-width="1.8" fill="none"/>
<path d="M587.46 896.1 V900.1 M587.46 498.1 V502.1" stroke="#000" stroke-width="1.8" fill="none"/>
<path d="M627.09 896.1 V903.6 M627.09 498.1 V505.6" stroke="#000" stroke-width="1.8" fill="none"/>
<path d="M666.73 896.1 V900.1 M666.73 498.1 V502.1" stroke="#000" stroke-width="1.8" fill="none"/>
<path d="M57 896.1 H64.5" stroke="#000" stroke-width="1.8" fill="none"/>
<path d="M60.5 862.93 H64.5" stroke="#000" stroke-width="1.8" fill="none"/>
<path d="M57 829.77 H64.5" stroke="#000" stroke-width="1.8" fill="none"/>
<path d="M60.5 796.6 H64.5" stroke="#000" stroke-width="1.8" fill="none"/>
<path d="M57 763.43 H64.5" stroke="#000" stroke-width="1.8" fill="none"/>
<path d="M60.5 730.27 H64.5" stroke="#000" stroke-width="1.8" fill="none"/>
<path d="M57 697.1 H64.5" stroke="#000" stroke-width="1.8" fill="none"/>
<path d="M60.5 663.93 H64.5" stroke="#000" stroke-width="1.8" fill="none"/>
<path d="M57 630.77 H64.5" stroke="#000" stroke-width="1.8" fill="none"/>
<path d="M60.5 597.6 H64.5" stroke="#000" stroke-width="1.8" fill="none"/>
<path d="M57 564.43 H64.5" stroke="#000" stroke-width="1.8" fill="none"/>
<path d="M60.5 531.27 H64.5" stroke="#000" stroke-width="1.8" fill="none"/>
<path d="M57 498.1 H64.5" stroke="#000" stroke-width="1.8" fill="none"/>
<path d="M667 896.1 H674.5" stroke="#000" stroke-width="1.8" fill="none"/>
<path d="M667 871.23 H671" stroke="#000" stroke-width="1.8" fill="none"/>
<path d="M667 846.35 H674.5" stroke="#000" stroke-width="1.8" fill="none"/>
<path d="M667 821.48 H671" stroke="#000" stroke-width="1.8" fill="none"/>
<path d="M667 796.6 H674.5" stroke="#000" stroke-width="1.8" fill="none"/>
<path d="M667 771.73 H671" stroke="#000" stroke-width="1.8" fill="none"/>
<path d="M667 746.85 H674.5" stroke="#000" stroke-width="1.8" fill="none"/>
<path d="M667 721.98 H671" stroke="#000" stroke-width="1.8" fill="none"/>
<path d="M667 697.1 H674.5" stroke="#000" stroke-width="1.8" fill="none"/>
<path d="M667 672.23 H671" stroke="#000" stroke-width="1.8" fill="none"/>
<path d="M667 647.35 H674.5" stroke="#000" stroke-width="1.8" fill="none"/>
<path d="M667 622.48 H671" stroke="#000" stroke-width="1.8" fill="none"/>
<path d="M667 597.6 H674.5" stroke="#000" stroke-width="1.8" fill="none"/>
<path d="M667 572.73 H671" stroke="#000" stroke-width="1.8" fill="none"/>
<path d="M667 547.85 H674.5" stroke="#000" stroke-width="1.8" fill="none"/>
<path d="M667 522.98 H671" stroke="#000" stroke-width="1.8" fill="none"/>
<path d="M667 498.1 H674.5" stroke="#000" stroke-width="1.8" fill="none"/>
<text x="50.6" y="407.7" font-size="13.8" text-anchor="end">0</text>
<text x="50.6" y="341.37" font-size="13.8" text-anchor="end">5</text>
<text x="49.4" y="275.03" font-size="13.8" text-anchor="end">10</text>
<text x="49.4" y="208.7" font-size="13.8" text-anchor="end">15</text>
<text x="49.4" y="142.37" font-size="13.8" text-anchor="end">20</text>
<text x="49.4" y="76.03" font-size="13.8" text-anchor="end">25</text>
<text x="49.4" y="9.7" font-size="13.8" text-anchor="end">30</text>
<text x="71.8" y="429.6" font-size="13.8" text-anchor="middle">0.1</text>
<text x="151.07" y="429.6" font-size="13.8" text-anchor="middle">0.2</text>
<text x="230.34" y="429.6" font-size="13.8" text-anchor="middle">0.3</text>
<text x="309.61" y="429.6" font-size="13.8" text-anchor="middle">0.4</text>
<text x="388.88" y="429.6" font-size="13.8" text-anchor="middle">0.5</text>
<text x="468.15" y="429.6" font-size="13.8" text-anchor="middle">0.6</text>
<text x="547.42" y="429.6" font-size="13.8" text-anchor="middle">0.7</text>
<text x="626.69" y="429.6" font-size="13.8" text-anchor="middle">0.8</text>
<text x="682" y="407.9" font-size="13.8">0</text>
<text x="682" y="351.04" font-size="13.8">2</text>
<text x="682" y="294.19" font-size="13.8">4</text>
<text x="682" y="237.33" font-size="13.8">6</text>
<text x="682" y="180.47" font-size="13.8">8</text>
<text x="682" y="123.61" font-size="13.8">10</text>
<text x="682" y="66.76" font-size="13.8">12</text>
<text x="682" y="9.9" font-size="13.8">14</text>
<text x="747.5" y="407.9" font-size="13.8">0.0</text>
<text x="747.5" y="351.04" font-size="13.8">0.1</text>
<text x="747.5" y="294.19" font-size="13.8">0.2</text>
<text x="747.5" y="237.33" font-size="13.8">0.3</text>
<text x="747.5" y="180.47" font-size="13.8">0.4</text>
<text x="747.5" y="123.61" font-size="13.8">0.5</text>
<text x="747.5" y="66.76" font-size="13.8">0.6</text>
<text x="747.5" y="9.9" font-size="13.8">0.7</text>
<text x="50.6" y="899.8" font-size="13.8" text-anchor="end">0</text>
<text x="50.6" y="833.47" font-size="13.8" text-anchor="end">5</text>
<text x="49.4" y="767.13" font-size="13.8" text-anchor="end">10</text>
<text x="49.4" y="700.8" font-size="13.8" text-anchor="end">15</text>
<text x="49.4" y="634.47" font-size="13.8" text-anchor="end">20</text>
<text x="49.4" y="568.13" font-size="13.8" text-anchor="end">25</text>
<text x="49.4" y="501.8" font-size="13.8" text-anchor="end">30</text>
<text x="71.8" y="921.7" font-size="13.8" text-anchor="middle">0.1</text>
<text x="151.07" y="921.7" font-size="13.8" text-anchor="middle">0.2</text>
<text x="230.34" y="921.7" font-size="13.8" text-anchor="middle">0.3</text>
<text x="309.61" y="921.7" font-size="13.8" text-anchor="middle">0.4</text>
<text x="388.88" y="921.7" font-size="13.8" text-anchor="middle">0.5</text>
<text x="468.15" y="921.7" font-size="13.8" text-anchor="middle">0.6</text>
<text x="547.42" y="921.7" font-size="13.8" text-anchor="middle">0.7</text>
<text x="626.69" y="921.7" font-size="13.8" text-anchor="middle">0.8</text>
<text x="681.3" y="900" font-size="13.8">0</text>
<text x="681.3" y="850.25" font-size="13.8">1</text>
<text x="681.3" y="800.5" font-size="13.8">2</text>
<text x="681.3" y="750.75" font-size="13.8">3</text>
<text x="681.3" y="701" font-size="13.8">4</text>
<text x="681.3" y="651.25" font-size="13.8">5</text>
<text x="681.3" y="601.5" font-size="13.8">6</text>
<text x="681.3" y="551.75" font-size="13.8">7</text>
<text x="681.3" y="502" font-size="13.8">8</text>
<text x="80" y="34.5" font-size="21.5" font-weight="bold">a</text>
<text x="80.5" y="532.1" font-size="21.5" font-weight="bold">b</text>
<text x="361" y="455" font-size="16.2">D [h<tspan dy="-6" font-size="11.5">-</tspan><tspan dx="0.6" font-size="11.5">1</tspan><tspan dy="6">]</tspan></text>
<text x="367" y="950.3" font-size="16.2">D [h<tspan dy="-6" font-size="11.5">-</tspan><tspan dx="0.6" font-size="11.5">1</tspan><tspan dy="6">]</tspan></text>
<text x="80.3" y="450.2" font-size="13.8">0.1</text>
<text transform="translate(15.4 205.2) rotate(-90)" font-size="17.0" text-anchor="middle">q<tspan dy="4.3" font-size="12.0">Glc</tspan><tspan dy="-4.3">, q</tspan><tspan dy="4.3" font-size="12.0">CO2</tspan><tspan dy="-4.3"> [mmol g<tspan dy="-7.0" font-size="11.5">-</tspan><tspan dx="0.6" font-size="11.5">1</tspan><tspan dy="7.0"> h</tspan><tspan dy="-7.0" font-size="11.5">-</tspan><tspan dx="0.6" font-size="11.5">1</tspan><tspan dy="7.0">]</tspan></tspan></text>
<text transform="translate(15.6 697.2) rotate(-90)" font-size="17.0" text-anchor="middle">q<tspan dy="4.3" font-size="12.0">Glc</tspan><tspan dy="-4.3">, q</tspan><tspan dy="4.3" font-size="12.0">Ace</tspan><tspan dy="-4.3">, q</tspan><tspan dy="4.3" font-size="12.0">CO2</tspan><tspan dy="-4.3"> [mmol g<tspan dy="-7.0" font-size="11.5">-</tspan><tspan dx="0.6" font-size="11.5">1</tspan><tspan dy="7.0"> h</tspan><tspan dy="-7.0" font-size="11.5">-</tspan><tspan dx="0.6" font-size="11.5">1</tspan><tspan dy="7.0">]</tspan></tspan></text>
<text transform="translate(720.7 205.3) rotate(-90)" font-size="17.0" text-anchor="middle">c<tspan dy="4.3" font-size="12.0">CDM</tspan><tspan dy="-4.3">, c</tspan><tspan dy="4.3" font-size="12.0">Glc</tspan><tspan dy="-4.3"> [g l<tspan dy="-7.0" font-size="11.5">-</tspan><tspan dx="0.6" font-size="11.5">1</tspan><tspan dy="7.0">]</tspan></tspan></text>
<text transform="translate(792.5 206.0) rotate(-90)" font-size="17.0" text-anchor="middle">c<tspan dy="4.3" font-size="12.0">Ace</tspan><tspan dy="-4.3"> [g l<tspan dy="-7.0" font-size="11.5">-</tspan><tspan dx="0.6" font-size="11.5">1</tspan><tspan dy="7.0">]</tspan></tspan></text>
<text transform="translate(719.0 697.0) rotate(-90)" font-size="17.0" text-anchor="middle">c<tspan dy="4.3" font-size="12.0">CDM</tspan><tspan dy="-4.3">, c</tspan><tspan dy="4.3" font-size="12.0">Glc</tspan><tspan dy="-4.3">, c</tspan><tspan dy="4.3" font-size="12.0">Ace</tspan><tspan dy="-4.3"> [g l<tspan dy="-7.0" font-size="11.5">-</tspan><tspan dx="0.6" font-size="11.5">1</tspan><tspan dy="7.0">]</tspan></tspan></text>
</svg>
</body></html>
